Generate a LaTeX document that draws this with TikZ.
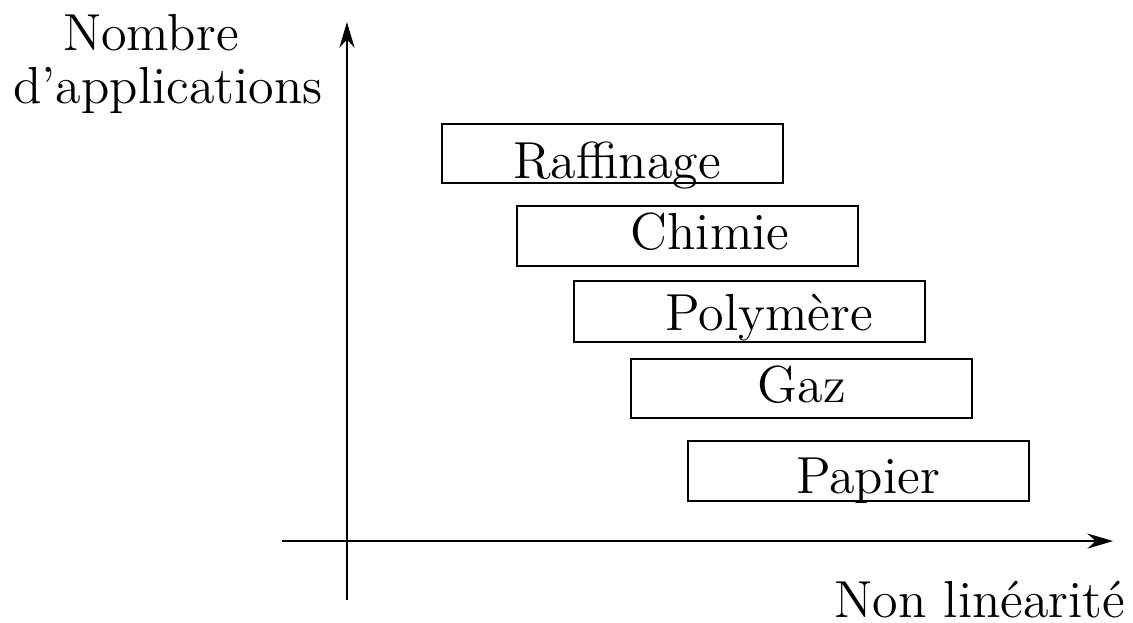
\documentclass[tikz,border=0pt]{standalone}
\usepackage{amsmath}
\usepackage{tikz}
\usetikzlibrary{arrows.meta}

\begin{document}
\begin{tikzpicture}[>={Stealth[length=2.2mm, width=1.3mm]}, font=\fontsize{12.7}{15}\selectfont,
    secteur/.style={draw, thin},
    etiquette/.style={anchor=base, inner sep=0pt}]
    \useasboundingbox (-2.973, -0.694) rectangle (6.735, 4.636);
    \coordinate (xg) at (-0.557, 0);
    \coordinate (xd) at (6.564, 0);
    \coordinate (yb) at (0, -0.506);
    \coordinate (yh) at (0, 4.447);
    \draw [->] (xg) -- (xd);
    \draw [->] (yb) -- (yh);
    \node [etiquette] (nlin) at (5.424, -0.651) {Non linéarité};
    \node [etiquette] (nombre) at (-1.680, 4.207) {Nombre};
    \node [etiquette] (applis) at (-1.534, 3.753) {d'applications};
    % secteurs
    \draw [secteur] (0.814, 3.068) rectangle (3.736, 3.573);
    \node [etiquette] (raffinage) at (2.314, 3.110) {Raffinage};
    \draw [secteur] (1.457, 2.356) rectangle (4.379, 2.871);
    \node [etiquette] (chimie) at (3.111, 2.494) {Chimie};
    \draw [secteur] (1.945, 1.705) rectangle (4.953, 2.228);
    \node [etiquette] (polymere) at (3.616, 1.808) {Polymère};
    \draw [secteur] (2.434, 1.054) rectangle (5.356, 1.560);
    \node [etiquette] (gaz) at (3.899, 1.191) {Gaz};
    \draw [secteur] (2.922, 0.343) rectangle (5.844, 0.857);
    \node [etiquette] (papier) at (4.464, 0.411) {Papier};
\end{tikzpicture}
\end{document}
